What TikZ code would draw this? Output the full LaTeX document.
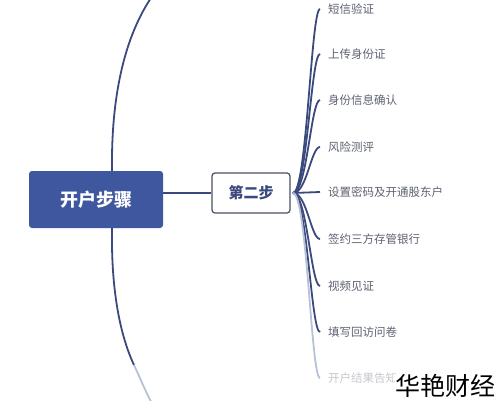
\documentclass[tikz,border=0pt]{standalone}
\usepackage{fontspec}
\setmainfont{Noto Sans CJK SC}
\usepackage{tikz}
\usetikzlibrary{positioning,calc}
\definecolor{rootblue}{HTML}{3F579E}
\definecolor{branchblue}{HTML}{3B4A7E}
\definecolor{fadeblue}{HTML}{B9C1D6}
\definecolor{leafgray}{HTML}{5E6272}
\definecolor{boxgray}{HTML}{4A5062}

\begin{document}
\begin{tikzpicture}[x=1pt,y=-1pt,
    leaf/.style={anchor=west,inner sep=0pt,text=leafgray,font=\fontsize{11.5}{12}\selectfont},
    branch/.style={draw=branchblue,line width=1.8pt}]
    \clip (0,0) rectangle (497,400);
    \fill[white] (0,0) rectangle (497,400);
    % main nodes
    \node[fill=rootblue,rounded corners=3pt,minimum width=134pt,minimum height=57pt,text=white,font=\fontsize{18}{20}\selectfont\bfseries] (root) at (96,199.5) {开户步骤};
    \node[draw=boxgray,line width=1.2pt,fill=white,rounded corners=3pt,minimum width=78pt,minimum height=40pt,text=branchblue,font=\fontsize{15}{17}\selectfont\bfseries] (step2) at (251,193) {第二步};
    % other steps (off the page)
    \coordinate (uptop) at (153,-5);
    \coordinate (downbot) at (153,405);
    \coordinate (fork) at (293,193);
    \draw[branch] ($(root.north)+(16,0)$) .. controls (111,95) and (125,35) .. (uptop);
    \draw[branch] ($(root.south)+(16,0)$) .. controls (111,290) and (120,335) .. (134,365);
    \draw[draw=fadeblue,line width=1.8pt] (134,365) .. controls (141,380) and (147,395) .. (downbot);
    \draw[branch] (step2.west) -- (step2.west -| root.east);
    % leaves
    \node[leaf] (sms) at (328,9) {短信验证};
    \node[leaf] (upload) at (328,54) {上传身份证};
    \node[leaf] (idcheck) at (328,100) {身份信息确认};
    \node[leaf] (risk) at (328,147) {风险测评};
    \node[leaf] (pwd) at (328,192) {设置密码及开通股东户};
    \node[leaf] (bank) at (328,239) {签约三方存管银行};
    \node[leaf] (video) at (328,286) {视频见证};
    \node[leaf] (survey) at (328,332) {填写回访问卷};
    \node[leaf,text=leafgray!35] (result) at (328,378) {开户结果告知};
    % branches
    \draw[branch] (fork) .. controls (307,193) and (311,9) .. ($(sms.west)+(-8,0)$);
    \draw[branch] (fork) .. controls (307,193) and (311,54) .. ($(upload.west)+(-8,0)$);
    \draw[branch] (fork) .. controls (307,193) and (311,100) .. ($(idcheck.west)+(-8,0)$);
    \draw[branch] (fork) .. controls (307,193) and (311,147) .. ($(risk.west)+(-8,0)$);
    \draw[branch] (fork) -- ($(pwd.west)+(-8,0)$);
    \draw[branch] (fork) .. controls (307,193) and (311,239) .. ($(bank.west)+(-8,0)$);
    \draw[branch] (fork) .. controls (307,193) and (311,286) .. ($(video.west)+(-8,0)$);
    \draw[branch] (fork) .. controls (307,193) and (311,332) .. ($(survey.west)+(-8,0)$);
    \draw[branch,draw=fadeblue] (fork) .. controls (307,193) and (311,378) .. ($(result.west)+(-8,0)$);
    % watermark
    \node[fill=white,inner sep=1pt,anchor=south east,font=\fontsize{25}{27}\selectfont] (mark) at (497,399) {华艳财经};
\end{tikzpicture}
\end{document}
